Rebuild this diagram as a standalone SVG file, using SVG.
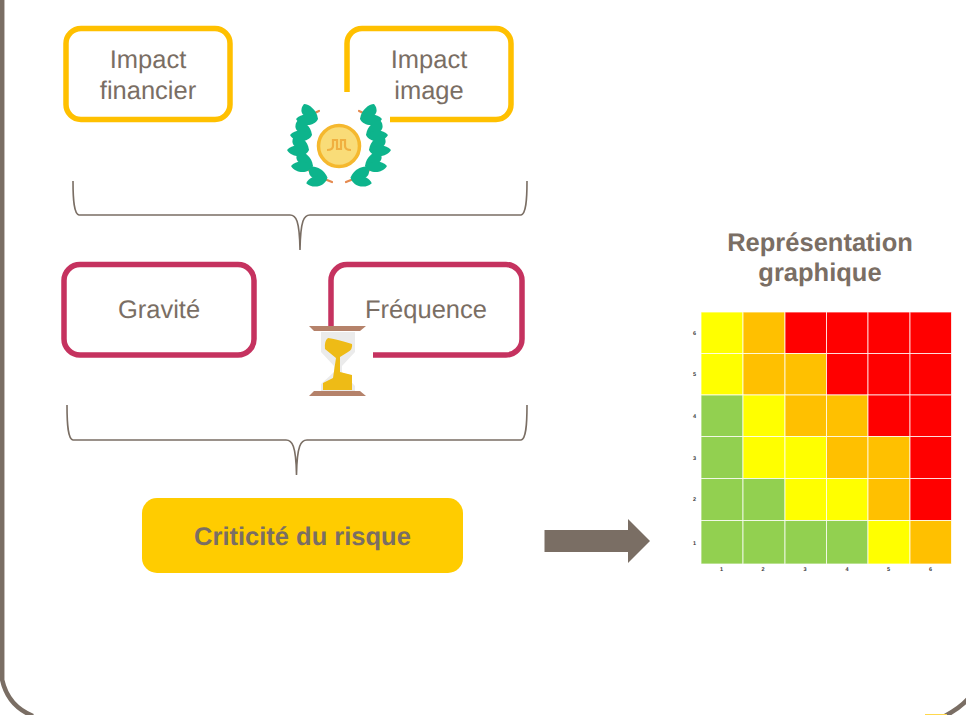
<svg xmlns="http://www.w3.org/2000/svg" width="966" height="715" viewBox="0 0 966 715">
<defs>
<style>
text{font-family:"Liberation Sans",Arial,sans-serif;fill:#7A6E64;text-rendering:geometricPrecision}
.lbl{font-size:25.500px;text-anchor:middle}
.bold{font-weight:bold;font-size:25.500px;text-anchor:middle}
.y{fill:none;stroke:#FFC000;stroke-width:5.500}
.m{fill:none;stroke:#C5325F;stroke-width:5.500}
.br{fill:none;stroke:#7A6E64;stroke-width:1.600}
.G{fill:#92D050}.Y{fill:#FFFF00}.O{fill:#FFC000}.R{fill:#FF0000}
.tick{font-size:5.500px;font-weight:bold;fill:#333;text-anchor:middle}
.leaf{fill:#10B48C}
.st{stroke:#E58A50;stroke-width:2.200;fill:none;stroke-linecap:round}
</style>
<filter id="soft" x="-10%" y="-10%" width="120%" height="120%"><feGaussianBlur stdDeviation="0.700"/></filter>
<g id="lf"><path class="leaf" d="M9 3C8 -6 0 -12 -5 -12C-10 -6 -9 3 9 3Z"/><path class="leaf" d="M9 3C2 -3 -8 -3 -13 3C-8 11 5 11 9 3Z"/></g>
</defs>
<rect width="966" height="715" fill="#fff"/>
<g id="frame">
<path d="M2.200 0V680Q8 706 33 716" fill="none" stroke="#7A6E64" stroke-width="4.500"/>
<path d="M968 699Q960 708 945 716" fill="none" stroke="#7A6E64" stroke-width="4.500"/>
<rect x="925" y="714" width="22" height="1" fill="#FFD84D"/>
</g>
<g id="connectors">
<path class="br" d="M73 181C73 200 74 214 79 215H290C296 215 299.500 220 300 250C300.500 220 304 215 310 215H521C526 214 527 200 527 181"/>
<path class="br" d="M67 405C67 425 68 439 73 440H286C292 440 296 445 296.500 475C297 445 301 440 307 440H521C526 439 527 425 527 405"/>
<path d="M544.500 530H628V519L650 541L628 563V552H544.500Z" fill="#7A6E64"/>
</g>
<g id="impact-financier"><rect class="y" x="66" y="28.500" width="164" height="91" rx="15"/><text class="lbl" x="148" y="68">Impact</text><text class="lbl" x="148" y="99">financier</text></g>
<g id="impact-image"><rect class="y" x="347" y="28.500" width="164" height="91" rx="15"/><text class="lbl" x="429" y="68">Impact</text><text class="lbl" x="429" y="99">image</text></g>
<g id="laurel">
<rect x="285" y="92" width="105" height="96" fill="#fff"/>
<g filter="url(#soft)">
<circle cx="339" cy="146" r="20.500" fill="#F9DC78" stroke="#F5B82E" stroke-width="3.500"/>
<path d="M327 150Q333 150 333 146V140H337V149H341V140H345V146Q345 150 351 150" fill="none" stroke="#F0B040" stroke-width="2.200"/>
<path class="st" d="M319 111L308 116L300 140L301 160L312 174L332 182"/>
<path class="st" d="M359 111L370 116L378 140L377 160L366 174L346 182"/>
<use href="#lf" transform="translate(309 116)"/>
<use href="#lf" transform="translate(303 132)"/>
<use href="#lf" transform="translate(300 147)"/>
<use href="#lf" transform="translate(304 163)"/>
<use href="#lf" transform="translate(318 177) rotate(-15)"/>
<use href="#lf" transform="translate(369 116) scale(-1 1)"/>
<use href="#lf" transform="translate(375 132) scale(-1 1)"/>
<use href="#lf" transform="translate(378 147) scale(-1 1)"/>
<use href="#lf" transform="translate(374 163) scale(-1 1)"/>
<use href="#lf" transform="translate(360 177) scale(-1 1) rotate(-15)"/>
</g>
</g>
<g id="gravite"><rect class="m" x="64" y="264.500" width="190" height="90.500" rx="16"/><text class="lbl" x="159" y="318">Gravité</text></g>
<g id="frequence"><rect class="m" x="331" y="264.500" width="191" height="90.500" rx="16"/><text class="lbl" x="426" y="318">Fréquence</text></g>
<g id="hourglass">
<rect x="307" y="326" width="66" height="72" fill="#fff"/>
<g filter="url(#soft)">
<path d="M321 332H355V352L342 366V372L355 386V391H321V384L334 372V366L321 352Z" fill="#EBEBEB"/>
<path d="M309 326H366L360 331H314Z" fill="#B5826A"/>
<path d="M309 396H366L360 391H314Z" fill="#B5826A"/>
<path d="M328 338Q336 339 352 344Q353 349 348 352L340 357L340 372L352 375V390H323V383L333 378L336 358L325 349Q324 341 328 338Z" fill="#EEBB14"/>
</g>
</g>
<g id="criticite"><rect x="142" y="498" width="321" height="75" rx="15" fill="#FFCC00"/><text class="bold" x="302.500" y="545">Criticité du risque</text></g>
<g id="titre"><text class="bold" x="820" y="251">Représentation</text><text class="bold" x="820" y="281">graphique</text></g>
<g id="matrice" stroke="#fff" stroke-opacity=".75" stroke-width="1">
<rect class="Y" x="701" y="312" width="42" height="41.500"/><rect class="O" x="743" y="312" width="42" height="41.500"/><rect class="R" x="785" y="312" width="41.500" height="41.500"/><rect class="R" x="826.500" y="312" width="41.500" height="41.500"/><rect class="R" x="868" y="312" width="42" height="41.500"/><rect class="R" x="910" y="312" width="41.500" height="41.500"/>
<rect class="Y" x="701" y="353.500" width="42" height="41.500"/><rect class="O" x="743" y="353.500" width="42" height="41.500"/><rect class="O" x="785" y="353.500" width="41.500" height="41.500"/><rect class="R" x="826.500" y="353.500" width="41.500" height="41.500"/><rect class="R" x="868" y="353.500" width="42" height="41.500"/><rect class="R" x="910" y="353.500" width="41.500" height="41.500"/>
<rect class="G" x="701" y="395" width="42" height="41.500"/><rect class="Y" x="743" y="395" width="42" height="41.500"/><rect class="O" x="785" y="395" width="41.500" height="41.500"/><rect class="O" x="826.500" y="395" width="41.500" height="41.500"/><rect class="R" x="868" y="395" width="42" height="41.500"/><rect class="R" x="910" y="395" width="41.500" height="41.500"/>
<rect class="G" x="701" y="436.500" width="42" height="42"/><rect class="Y" x="743" y="436.500" width="42" height="42"/><rect class="Y" x="785" y="436.500" width="41.500" height="42"/><rect class="O" x="826.500" y="436.500" width="41.500" height="42"/><rect class="O" x="868" y="436.500" width="42" height="42"/><rect class="R" x="910" y="436.500" width="41.500" height="42"/>
<rect class="G" x="701" y="478.500" width="42" height="42"/><rect class="G" x="743" y="478.500" width="42" height="42"/><rect class="Y" x="785" y="478.500" width="41.500" height="42"/><rect class="Y" x="826.500" y="478.500" width="41.500" height="42"/><rect class="O" x="868" y="478.500" width="42" height="42"/><rect class="R" x="910" y="478.500" width="41.500" height="42"/>
<rect class="G" x="701" y="520.500" width="42" height="43.500"/><rect class="G" x="743" y="520.500" width="42" height="43.500"/><rect class="G" x="785" y="520.500" width="41.500" height="43.500"/><rect class="G" x="826.500" y="520.500" width="41.500" height="43.500"/><rect class="Y" x="868" y="520.500" width="42" height="43.500"/><rect class="O" x="910" y="520.500" width="41.500" height="43.500"/>
</g>
<g id="axes">
<text class="tick" x="694.500" y="335">6</text><text class="tick" x="694.500" y="376">5</text><text class="tick" x="694.500" y="418">4</text><text class="tick" x="694.500" y="460">3</text><text class="tick" x="694.500" y="501">2</text><text class="tick" x="694.500" y="545">1</text>
<text class="tick" x="721.500" y="571">1</text><text class="tick" x="763" y="571">2</text><text class="tick" x="805" y="571">3</text><text class="tick" x="847" y="571">4</text><text class="tick" x="888.500" y="571">5</text><text class="tick" x="930.500" y="571">6</text>
</g>
</svg>
